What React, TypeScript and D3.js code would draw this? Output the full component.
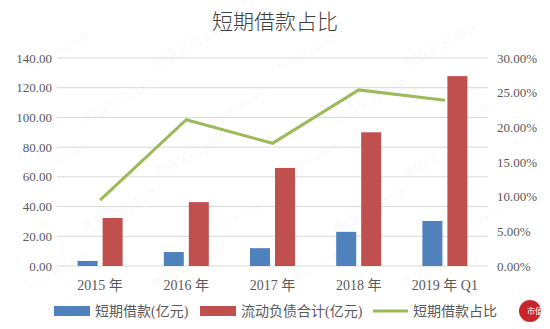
import React from "react";
import * as d3 from "d3";

const categories = ["2015 年", "2016 年", "2017 年", "2018 年", "2019 年 Q1"];
const shortLoans = [3.4, 9.4, 12.0, 23.0, 30.3];
const currentLiab = [32.3, 43.0, 66.0, 90.0, 127.8];
const ratio = [0.095, 0.211, 0.177, 0.254, 0.239];
const leftTicks = [0, 20, 40, 60, 80, 100, 120, 140];
const rightTicks = [0, 0.05, 0.1, 0.15, 0.2, 0.25, 0.3];
const legendLabels = ["短期借款(亿元)", "流动负债合计(亿元)", "短期借款占比"];

const W = 550, H = 329;
const plot = { left: 57, right: 488, top: 58, bottom: 266 };
const BLUE = "#4f81bd", RED = "#c0504d", GREEN = "#9bbb59";
const serif = "'Liberation Serif', 'Noto Sans CJK SC', serif";
const cjk = "'Noto Sans CJK SC', sans-serif";

export default function App() {
  const x = d3.scaleBand<string>().domain(categories).range([plot.left, plot.right]);
  const yL = d3.scaleLinear().domain([0, 140]).range([plot.bottom, plot.top]);
  const yR = d3.scaleLinear().domain([0, 0.3]).range([plot.bottom, plot.top]);
  const barW = 20, gap = 5;
  const line = d3.line<number>()
    .x((_, i) => (x(categories[i]) as number) + x.bandwidth() / 2)
    .y((d) => yR(d));

  const wm: { t: string; x: number; y: number }[] = [];
  for (let r = 0; r < 5; r++) {
    for (let c = 0; c < 4; c++) {
      wm.push({ t: (r + c) % 2 === 0 ? "wogoo.com" : "市值风云APP", x: 30 + c * 125 + (r % 2) * 55, y: 70 + r * 55 });
    }
  }

  return (
    <svg width={W} height={H} style={{ position: "absolute", left: 0, top: 0, background: "#fff" }}>
      <rect width={W} height={H} fill="#fff" />
      {wm.map((w, i) => (
        <text key={i} x={w.x} y={w.y} transform={`rotate(-28 ${w.x} ${w.y})`} fill="#000" fillOpacity={0.045}
          fontSize={14} fontFamily={serif}>{w.t}</text>
      ))}
      <text x={275} y={29} textAnchor="middle" fontSize={21} fill="#404040" fontFamily={cjk} fontWeight={300}>短期借款占比</text>
      {leftTicks.map((t) => (
        <g key={t}>
          <line x1={plot.left} x2={plot.right} y1={yL(t)} y2={yL(t)} stroke="#d9d9d9" strokeWidth={1} />
          <text x={52} y={yL(t) + 4.5} textAnchor="end" fontSize={13} fill="#595959" fontFamily={serif}>{t.toFixed(2)}</text>
        </g>
      ))}
      {rightTicks.map((t) => (
        <text key={t} x={497} y={yR(t) + 4.5} textAnchor="start" fontSize={13} fill="#595959" fontFamily={serif}>
          {(t * 100).toFixed(2)}%
        </text>
      ))}
      {categories.map((c, i) => {
        const cx = (x(c) as number) + x.bandwidth() / 2;
        return (
          <g key={c}>
            <rect x={cx - gap / 2 - barW} y={yL(shortLoans[i])} width={barW} height={plot.bottom - yL(shortLoans[i])} fill={BLUE} />
            <rect x={cx + gap / 2} y={yL(currentLiab[i])} width={barW} height={plot.bottom - yL(currentLiab[i])} fill={RED} />
            <text x={cx} y={290} textAnchor="middle" fontSize={14} fill="#595959" fontFamily={serif}>{c}</text>
          </g>
        );
      })}
      <path d={line(ratio) || ""} fill="none" stroke={GREEN} strokeWidth={3} />
      <g fontSize={14} fill="#595959" fontFamily={serif}>
        <rect x={54} y={306} width={36} height={10} fill={BLUE} />
        <text x={95} y={316}>{legendLabels[0]}</text>
        <rect x={200} y={306} width={36} height={10} fill={RED} />
        <text x={241} y={316}>{legendLabels[1]}</text>
        <line x1={373} x2={408} y1={311} y2={311} stroke={GREEN} strokeWidth={3} />
        <text x={413} y={316}>{legendLabels[2]}</text>
      </g>
      <circle cx={530} cy={311} r={11} fill="#c9262c" />
      <text x={535} y={314} textAnchor="middle" fontSize={8} fill="#fff" fontFamily={cjk}>市值</text>
    </svg>
  );
}
